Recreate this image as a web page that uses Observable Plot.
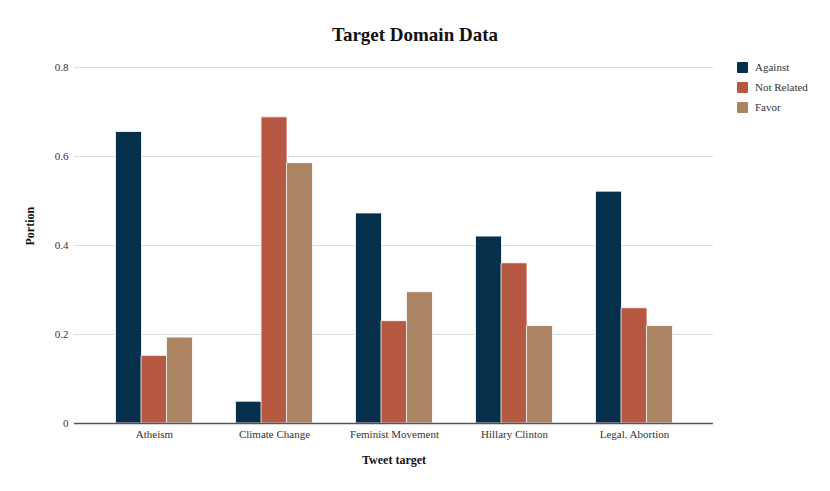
<!DOCTYPE html>
<html>
<head>
<meta charset="utf-8">
<script src="https://cdn.jsdelivr.net/npm/d3@7"></script>
<script src="https://cdn.jsdelivr.net/npm/@observablehq/plot@0.6"></script>
<style>
  html, body { margin: 0; padding: 0; background: #fff; }
  #wrap { position: relative; width: 830px; height: 491px; font-family: "Liberation Serif", "DejaVu Serif", serif; }
  #title { position: absolute; left: 0; width: 830px; top: 24px; text-align: center; font-size: 19px; font-weight: bold; color: #111; }
  #legend { position: absolute; left: 737px; top: 57px; font-size: 11px; color: #333; font-family: "Liberation Serif", serif; }
  .item { display: flex; align-items: center; height: 20px; }
  .sw { width: 11px; height: 11px; margin-right: 7px; border-radius: 1px; }
  #chart svg text { font-family: "Liberation Serif", serif; }
</style>
</head>
<body>
<div id="wrap">
  <div id="chart"></div>
  <div id="title">Target Domain Data</div>
  <div id="legend"></div>
</div>
<script>
const targets = ["Atheism", "Climate Change", "Feminist Movement", "Hillary Clinton", "Legal. Abortion"];
const stances = ["Against", "Not Related", "Favor"];
const colors = ["#052f4a", "#b65842", "#ab8464"];
const against = [0.655, 0.049, 0.472, 0.420, 0.521];
const notRelated = [0.152, 0.688, 0.230, 0.360, 0.259];
const favor = [0.193, 0.585, 0.295, 0.219, 0.219];
const yTicks = [0, 0.2, 0.4, 0.6, 0.8];

const series = [against, notRelated, favor];
const data = [];
stances.forEach((s, i) => targets.forEach((t, j) => data.push({target: t, stance: s, value: series[i][j]})));

const offsets = [-25.5, 0, 25.5];
const barMarks = stances.map((s, i) =>
  Plot.barY(data.filter(d => d.stance === s), {
    x: "target", y: "value", fill: colors[i], stroke: "#fff", strokeWidth: 0.8, dx: offsets[i], rx: 1
  })
);

const chart = Plot.plot({
  width: 830,
  height: 491,
  marginLeft: 74,
  marginRight: 117,
  marginTop: 67,
  marginBottom: 68,
  style: { fontFamily: "Liberation Serif, serif", fontSize: "11px", color: "#333", background: "#fff" },
  x: { domain: targets, range: [94, 694], paddingInner: 0.7875, paddingOuter: 0.39375, label: null },
  y: { domain: [0, 0.8], label: null },
  marks: [
    Plot.ruleY(yTicks.filter(d => d > 0), { stroke: "#dcdcdc", strokeWidth: 1 }),
    ...barMarks,
    Plot.ruleY([0], { stroke: "#555", strokeWidth: 1.5 }),
    Plot.axisY({ ticks: yTicks, tickSize: 0, tickPadding: 6, tickFormat: d => d === 0 ? "0" : d.toFixed(1), label: null }),
    Plot.axisX({ tickSize: 0, tickPadding: 7, label: null }),
    Plot.text(["Portion"], { frameAnchor: "left", dx: -44, rotate: -90, fontWeight: "bold", fontSize: 12, fill: "#111" }),
    Plot.text(["Tweet target"], { frameAnchor: "bottom", dy: 37, lineAnchor: "middle", fontWeight: "bold", fontSize: 12, fill: "#111" })
  ]
});
document.getElementById("chart").appendChild(chart);

const legend = document.getElementById("legend");
stances.forEach((s, i) => {
  const it = document.createElement("div");
  it.className = "item";
  it.innerHTML = `<span class="sw" style="background:${colors[i]}"></span><span>${s}</span>`;
  legend.appendChild(it);
});
</script>
</body>
</html>
